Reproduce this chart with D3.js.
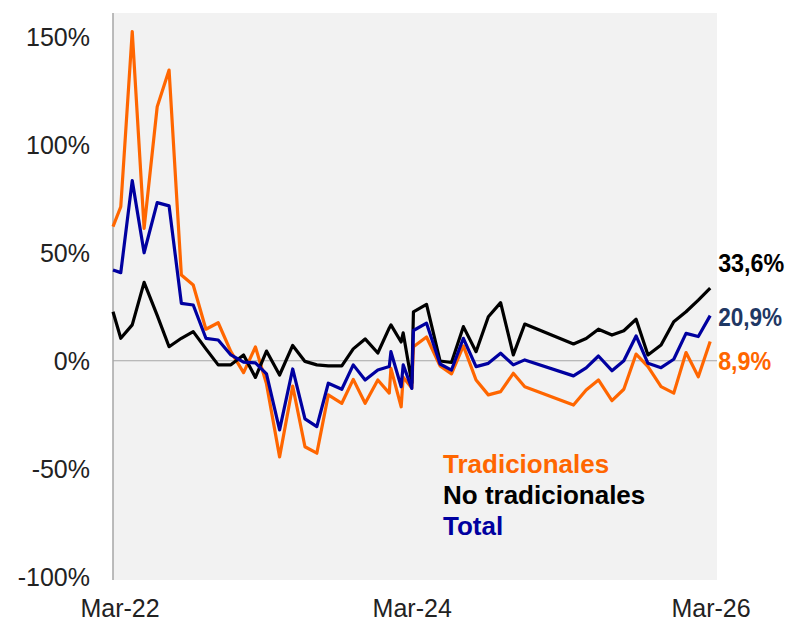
<!DOCTYPE html>
<html>
<head>
<meta charset="utf-8">
<script src="https://cdn.jsdelivr.net/npm/d3@7"></script>
<style>
  html, body { margin: 0; padding: 0; background: #fff; overflow: hidden; }
  svg { display: block; }
  text { font-family: Arial, 'Liberation Sans', sans-serif; }
</style>
</head>
<body>
<div id="chart"></div>
<script>
// fechas de cada observación (no son mensuales exactas)
const fechas = [
  '2022-03-01', '2022-03-20', '2022-04-17', '2022-05-16', '2022-06-17', '2022-07-16',
  '2022-08-15', '2022-09-13', '2022-10-14', '2022-11-13', '2022-12-14', '2023-01-14',
  '2023-02-12', '2023-03-11', '2023-04-12', '2023-05-14', '2023-06-13', '2023-07-12',
  '2023-08-09', '2023-09-11', '2023-10-09', '2023-11-07', '2023-12-08', '2024-01-05',
  '2024-01-09', '2024-02-03', '2024-02-08', '2024-02-29', '2024-03-04', '2024-04-05',
  '2024-05-08', '2024-06-05', '2024-07-04', '2024-08-04', '2024-09-03', '2024-10-03',
  '2024-11-03', '2024-12-01', '2025-03-30', '2025-04-30', '2025-05-30', '2025-07-02',
  '2025-07-31', '2025-08-30', '2025-09-28', '2025-10-30', '2025-11-30', '2025-12-30',
  '2026-01-29', '2026-02-27'
]
const tradicionales = [
  62.1, 71.3, 152.4, 61.3, 117.6, 134.6, 39.7, 35.1, 14.6, 17.6, 4.2, -5.5,
  6.4, -10.7, -44.5, -11.7, -39.8, -42.8, -15.8, -19.7, -8.6, -19.7, -8.9, -15.0,
  -3.5, -21.3, -7.6, -12.6, 6.5, 11.0, -2.4, -6.1, 6.9, -8.9, -15.8, -14.3,
  -5.8, -12.0, -20.5, -13.5, -8.9, -18.5, -13.2, 3.1, -2.7, -12.0, -15.0, 3.8,
  -7.4, 8.9
]
const noTradicionales = [
  22.7, 10.4, 16.6, 36.3, 21.0, 6.5, 10.4, 13.5, 5.5, -1.9, -1.9, 2.7,
  -7.7, 4.5, -6.6, 7.1, -0.3, -1.9, -2.4, -2.4, 5.5, 10.1, 3.6, 15.2,
  16.6, 8.7, 12.9, -10.3, 22.6, 26.1, -0.1, -0.8, 15.8, 4.2, 20.4, 26.9,
  2.7, 17.0, 7.8, 10.3, 14.6, 11.9, 13.9, 19.2, 2.7, 7.3, 18.1, 22.7,
  28.1, 33.6
]
const total = [
  42.0, 40.8, 83.4, 50.0, 73.2, 71.7, 26.6, 25.8, 10.4, 9.6, 2.7, -0.6,
  -1.0, -6.1, -32.0, -3.8, -26.9, -30.5, -10.4, -13.2, -1.9, -8.9, -4.3, -2.7,
  4.2, -12.0, -1.9, -12.8, 14.0, 17.4, -1.5, -4.3, 10.4, -2.7, -1.2, 3.5,
  -1.9, 0.4, -7.0, -3.3, 2.2, -4.6, 0.0, 11.5, -1.2, -3.2, 0.7, 12.7,
  11.2, 20.9
]
const xTickDates = ['2022-03-01', '2024-03-01', '2026-03-01']
const xTickLabels = ['Mar-22', 'Mar-24', 'Mar-26']
const yTicks = [-100, -50, 0, 50, 100, 150]
const seriesNames = ['Tradicionales', 'No tradicionales', 'Total']
const endLabels = ['8,9%', '33,6%', '20,9%']

const width = 798
const height = 624
const margin = { left: 113, top: 13, right: 81, bottom: 44 }
const innerWidth = width - margin.left - margin.right
const innerHeight = height - margin.top - margin.bottom

const parse = d3.timeParse('%Y-%m-%d')
const dates = fechas.map(parse)

const series = [
  { name: seriesNames[0], values: tradicionales, color: '#ff6600', labelColor: '#ff6600', label: endLabels[0], labelDy: 19, labelW: 53 },
  { name: seriesNames[1], values: noTradicionales, color: '#000000', labelColor: '#000000', label: endLabels[1], labelDy: -26, labelW: 66 },
  { name: seriesNames[2], values: total, color: '#0000a0', labelColor: '#1f3864', label: endLabels[2], labelDy: 1, labelW: 64 }
]

const svg = d3.select('#chart')
  .append('svg')
  .attr('width', width)
  .attr('height', height)

const g = svg.append('g')
  .attr('transform', `translate(${margin.left},${margin.top})`)

const xScale = d3.scaleTime()
  .domain([parse(xTickDates[0]), parse(xTickDates[2])])
  .range([0, 598])
const yScale = d3.scaleLinear()
  .domain([-101.5, 161])
  .range([innerHeight, 0])

// fondo gris del área de trazado
g.append('rect')
  .attr('width', innerWidth)
  .attr('height', innerHeight)
  .attr('fill', '#f2f2f2')

// linea del cero
g.append('line')
  .attr('x1', 0)
  .attr('x2', innerWidth)
  .attr('y1', yScale(0))
  .attr('y2', yScale(0))
  .attr('stroke', '#a6a6a6')
  .attr('stroke-width', 1)

// eje vertical
g.append('line')
  .attr('x1', 0)
  .attr('x2', 0)
  .attr('y1', 0)
  .attr('y2', innerHeight)
  .attr('stroke', '#a6a6a6')
  .attr('stroke-width', 1.5)

g.selectAll('.ylab')
  .data(yTicks)
  .enter()
  .append('text')
  .attr('class', 'ylab')
  .attr('x', -23)
  .attr('y', d => yScale(d))
  .attr('dy', '0.36em')
  .attr('text-anchor', 'end')
  .attr('font-size', 25)
  .attr('fill', '#222')
  .text(d => d + '%')

g.selectAll('.xlab')
  .data(xTickDates)
  .enter()
  .append('text')
  .attr('class', 'xlab')
  .attr('x', d => xScale(parse(d)))
  .attr('dx', (d, i) => i === 0 ? 7 : 0)
  .attr('y', innerHeight + 37)
  .attr('text-anchor', 'middle')
  .attr('font-size', 25)
  .attr('fill', '#222')
  .text((d, i) => xTickLabels[i])

const line = d3.line()
  .x((d, i) => xScale(dates[i]))
  .y(d => yScale(d))

g.selectAll('.serie')
  .data(series)
  .enter()
  .append('path')
  .attr('class', 'serie')
  .attr('d', d => line(d.values))
  .attr('fill', 'none')
  .attr('stroke', d => d.color)
  .attr('stroke-width', 3.2)
  .attr('stroke-linejoin', 'round')

// etiquetas del último dato
g.selectAll('.endlab')
  .data(series)
  .enter()
  .append('text')
  .attr('class', 'endlab')
  .attr('x', d => xScale(dates[dates.length - 1]) + 8)
  .attr('y', d => yScale(d.values[d.values.length - 1]) + d.labelDy)
  .attr('dy', '0.36em')
  .attr('font-size', 26)
  .attr('font-weight', 'bold')
  .attr('fill', d => d.labelColor)
  .attr('textLength', d => d.labelW)
  .attr('lengthAdjust', 'spacingAndGlyphs')
  .text(d => d.label)

// leyenda
g.selectAll('.leg')
  .data(series)
  .enter()
  .append('text')
  .attr('class', 'leg')
  .attr('x', 330)
  .attr('y', (d, i) => 460 + i * 31)
  .attr('font-size', 26)
  .attr('font-weight', 'bold')
  .attr('fill', d => d.color)
  .text(d => d.name)
</script>
</body>
</html>
